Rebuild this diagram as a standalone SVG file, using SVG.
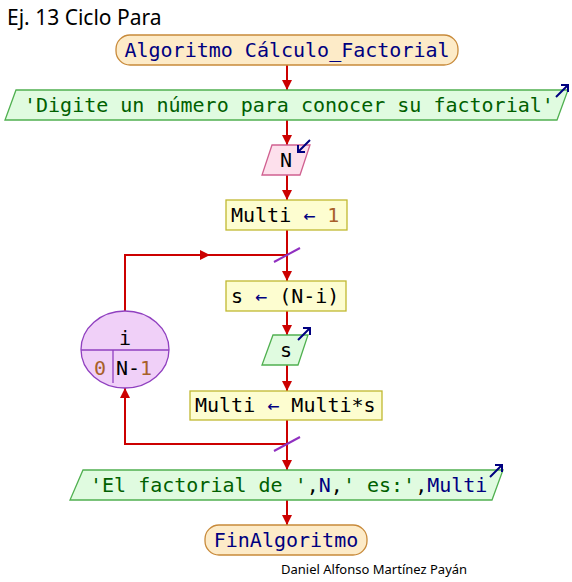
<svg xmlns="http://www.w3.org/2000/svg" width="572" height="582" viewBox="0 0 572 582">
<defs>
<style>
.code{font-family:"DejaVu Sans Mono","Liberation Mono",monospace;font-size:20px}
.term{fill:#fdebc8;stroke:#c88a3a;stroke-width:1.3}
.proc{fill:#fdfdd0;stroke:#c0b830;stroke-width:1.3}
.out{fill:#e0fbe0;stroke:#50b050;stroke-width:1.3}
.inp{fill:#fde0ec;stroke:#d06090;stroke-width:1.3}
.flow{fill:none;stroke:#cc0000;stroke-width:2}
.icon{fill:none;stroke:#000080;stroke-width:2}
.kw{fill:#000080}
.var{fill:#000000}
.str{fill:#006000}
.num{fill:#a8602a}
.slash{stroke:#9030c0;stroke-width:2}
</style>
<marker id="ah" viewBox="0 0 10 10" refX="10" refY="5" markerWidth="10" markerHeight="10" markerUnits="userSpaceOnUse" orient="auto">
<path d="M0,0 L10,5 L0,10 z" fill="#cc0000"/>
</marker>
<marker id="mid" viewBox="0 0 10 10" refX="5" refY="5" markerWidth="10" markerHeight="10" markerUnits="userSpaceOnUse" orient="auto">
<path d="M0,0 L10,5 L0,10 z" fill="#cc0000"/>
</marker>
</defs>
<rect width="572" height="582" fill="#ffffff"/>
<text x="7" y="25" font-family="'Noto Sans','Open Sans',sans-serif" font-size="21" fill="#000">Ej. 13 Ciclo Para</text>

<g id="connectors">
<line class="flow" x1="287" y1="65" x2="287" y2="90" marker-end="url(#ah)"/>
<line class="flow" x1="287" y1="120" x2="287" y2="145" marker-end="url(#ah)"/>
<line class="flow" x1="287" y1="175" x2="287" y2="200" marker-end="url(#ah)"/>
<line class="flow" x1="287" y1="230" x2="287" y2="281" marker-end="url(#ah)"/>
<line class="flow" x1="287" y1="311" x2="287" y2="335" marker-end="url(#ah)"/>
<line class="flow" x1="287" y1="365" x2="287" y2="391" marker-end="url(#ah)"/>
<line class="flow" x1="287" y1="420" x2="287" y2="470" marker-end="url(#ah)"/>
<line class="flow" x1="287" y1="500" x2="287" y2="525" marker-end="url(#ah)"/>
<polyline class="flow" points="125,311 125,255 205,255"  marker-end="url(#mid)"/>
<line class="flow" x1="205" y1="255" x2="287" y2="255"/>
<polyline class="flow" points="287,444 125,444 125,388" marker-end="url(#ah)"/>
<line class="slash" x1="274" y1="262" x2="300" y2="248"/>
<line class="slash" x1="274" y1="451" x2="300" y2="437"/>
</g>

<g id="start">
<rect class="term" x="116" y="35" width="342" height="30" rx="14"/>
<text class="code kw" x="287" y="57" text-anchor="middle">Algoritmo Cálculo_Factorial</text>
</g>

<g id="output1">
<polygon class="out" points="16,90 568,90 557,120 5,120"/>
<text class="code str" x="24" y="112">'Digite un número para conocer su factorial'</text>
<path class="icon" d="M556,97 L568,85 M561,85 L568,85 L568,92"/>
</g>

<g id="input_n">
<polygon class="inp" points="272,145 310,145 300,175 262,175"/>
<text class="code var" x="286" y="167" text-anchor="middle">N</text>
<path class="icon" d="M310,140 L298,152 M298,145 L298,152 L305,152"/>
</g>

<g id="assign_multi">
<rect class="proc" x="226" y="200" width="121" height="30"/>
<text class="code" x="231" y="222"><tspan class="var">Multi</tspan><tspan class="kw"> ← </tspan><tspan class="num">1</tspan></text>
</g>

<g id="loop_for">
<ellipse cx="125" cy="349.5" rx="44" ry="38.5" fill="#f0d0f8" stroke="#9040c0" stroke-width="1.3"/>
<line x1="81" y1="350" x2="169" y2="350" stroke="#9040c0" stroke-width="1.3"/>
<line x1="113" y1="350" x2="113" y2="383" stroke="#9040c0" stroke-width="1.3"/>
<text class="code var" x="125" y="345" text-anchor="middle">i</text>
<text class="code num" x="100" y="375" text-anchor="middle">0</text>
<text class="code" x="116" y="375"><tspan class="var">N-</tspan><tspan class="num">1</tspan></text>
</g>

<g id="assign_s">
<rect class="proc" x="226" y="281" width="120" height="30"/>
<text class="code" x="231" y="303"><tspan class="var">s</tspan><tspan class="kw"> ← </tspan><tspan class="var">(N-i)</tspan></text>
</g>

<g id="output_s">
<polygon class="out" points="273,335 308,335 298,365 262,365"/>
<text class="code var" x="286" y="357" text-anchor="middle">s</text>
<path class="icon" d="M298,340 L310,328 M303,328 L310,328 L310,335"/>
</g>

<g id="assign_mult">
<rect class="proc" x="190" y="391" width="192" height="29"/>
<text class="code" x="195" y="412"><tspan class="var">Multi</tspan><tspan class="kw"> ← </tspan><tspan class="var">Multi*s</tspan></text>
</g>

<g id="output2">
<polygon class="out" points="83,470 503,470 492,500 70,500"/>
<text class="code" x="90" y="492"><tspan class="str">'El factorial de '</tspan><tspan class="var">,</tspan><tspan class="kw">N</tspan><tspan class="var">,</tspan><tspan class="str">' es:'</tspan><tspan class="var">,</tspan><tspan class="kw">Multi</tspan></text>
<path class="icon" d="M490,477 L502,465 M495,465 L502,465 L502,472"/>
</g>

<g id="end">
<rect class="term" x="205" y="525" width="162" height="30" rx="14"/>
<text class="code kw" x="286" y="547" text-anchor="middle">FinAlgoritmo</text>
</g>

<text x="281" y="574" font-family="'Noto Sans','Open Sans',sans-serif" font-size="13" fill="#000">Daniel Alfonso Martínez Payán</text>
</svg>
